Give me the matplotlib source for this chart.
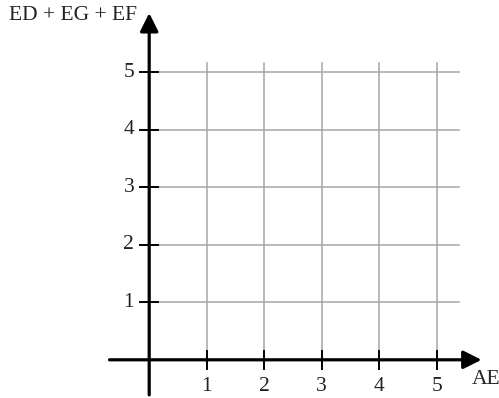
import matplotlib
matplotlib.use('Agg')
import matplotlib.pyplot as plt

plt.rcParams['font.family'] = ['Liberation Serif', 'DejaVu Serif']

# axis ticks / labels
x_ticks = [1, 2, 3, 4, 5]
y_ticks = [1, 2, 3, 4, 5]
x_label = 'AE'
y_label = 'ED + EG + EF'

# grid extent and axis extent (data units)
grid_xmax, grid_ymax = 5.39, 5.17
xaxis_from, xaxis_to = -0.69, 5.78
yaxis_from, yaxis_to = -0.61, 6.03

fig = plt.figure(figsize=(4.99, 3.98), dpi=100)
ax = fig.add_axes([0, 0, 1, 1])
ax.set_xlim(-149.2/57.5, (499-149.2)/57.5)
ax.set_ylim(-(398-359.8)/57.5, 359.8/57.5)
ax.axis('off')

gridc = '#a6a6a6'
txtc = '#222222'
fs = 15.5
for x in x_ticks:
    ax.plot([x, x], [0, grid_ymax], color=gridc, lw=1.1, zorder=1)
for y in y_ticks:
    ax.plot([0, grid_xmax], [y, y], color=gridc, lw=1.1, zorder=1)

arrow = dict(arrowstyle='-|>,head_length=0.5,head_width=0.25', lw=2.3, color='black',
             mutation_scale=22, shrinkA=0, shrinkB=0)
ax.annotate('', xy=(xaxis_to, 0), xytext=(xaxis_from, 0), arrowprops=arrow, zorder=3)
ax.annotate('', xy=(0, yaxis_to), xytext=(0, yaxis_from), arrowprops=arrow, zorder=3)

tk = 0.16
for x in x_ticks:
    ax.plot([x, x], [-tk, tk], color='black', lw=1.4, zorder=2)
    ax.text(x, -0.47, str(x), ha='center', va='center', fontsize=fs, color=txtc)
for y in y_ticks:
    ax.plot([-tk, tk], [y, y], color='black', lw=1.4, zorder=2)
    ax.text(-0.26, y, str(y), ha='right', va='center', fontsize=fs, color=txtc)

ax.text(5.61, -0.35, x_label, ha='left', va='center', fontsize=fs, color=txtc)
ax.text(-0.21, 5.98, y_label, ha='right', va='center', fontsize=fs, color=txtc)

fig.savefig('out.png', dpi=100)
